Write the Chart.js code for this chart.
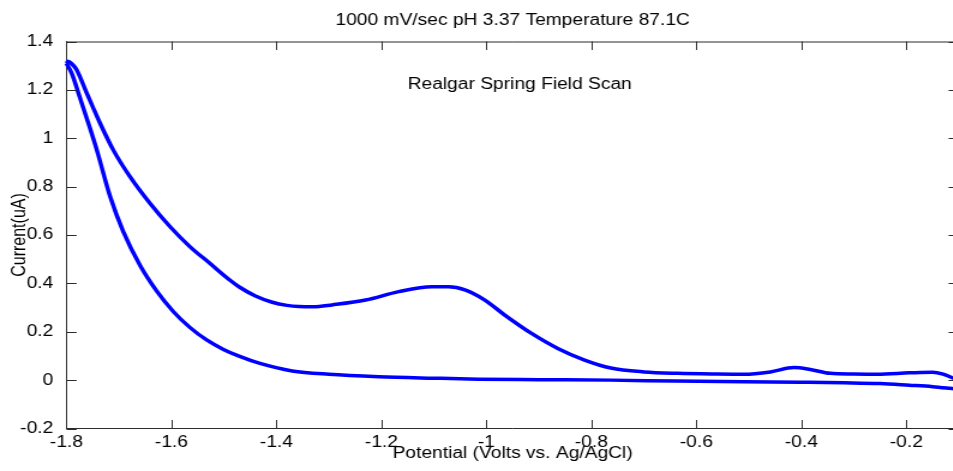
<!DOCTYPE html>
<html>
<head>
<meta charset="utf-8">
<script src="https://cdn.jsdelivr.net/npm/chart.js@4.4.0/dist/chart.umd.min.js"></script>
<style>
  html, body { margin: 0; padding: 0; background: #fff; overflow: hidden; }
  #wrap { width: 953px; height: 471px; overflow: hidden; }
  /* the source image is stretched sideways, so the canvas is too */
  #chart { transform: scaleX(1.2); transform-origin: 0 0; }
</style>
</head>
<body>
<div id="wrap"><canvas id="chart" width="805" height="471"></canvas></div>
<script>
const titleText = '1000 mV/sec pH 3.37 Temperature 87.1C';
const noteText = 'Realgar Spring Field Scan';
const noteX = -1.15, noteY = 1.22;

const xTicks = [-1.8, -1.6, -1.4, -1.2, -1.0, -0.8, -0.6, -0.4, -0.2];
const yTicks = [-0.2, 0, 0.2, 0.4, 0.6, 0.8, 1.0, 1.2, 1.4];

// forward sweep (lower branch)
const lowerX = [-1.800, -1.790, -1.774, -1.755, -1.742, -1.717, -1.692, -1.660, -1.628, -1.597,
  -1.565, -1.533, -1.501, -1.470, -1.433, -1.370, -1.300, -1.205, -1.100, -1.015,
  -0.900, -0.763, -0.640, -0.509, -0.400, -0.319, -0.250, -0.194, -0.150, -0.117,
  -0.100];
const lowerY = [1.310, 1.268, 1.165, 1.040, 0.950, 0.760, 0.615, 0.475, 0.368, 0.285,
  0.218, 0.166, 0.127, 0.098, 0.070, 0.038, 0.024, 0.014, 0.008, 0.004,
  0.002, 0.000, -0.004, -0.007, -0.009, -0.011, -0.014, -0.021, -0.027, -0.034,
  -0.038];

// reverse sweep (upper branch)
const upperX = [-1.800, -1.797, -1.790, -1.781, -1.762, -1.749, -1.736, -1.711, -1.679, -1.641,
  -1.603, -1.565, -1.527, -1.489, -1.470, -1.440, -1.408, -1.380, -1.357, -1.330,
  -1.294, -1.230, -1.167, -1.104, -1.072, -1.041, -1.003, -0.965, -0.914, -0.864,
  -0.813, -0.763, -0.700, -0.636, -0.560, -0.509, -0.459, -0.414, -0.383, -0.345,
  -0.300, -0.256, -0.194, -0.150, -0.130, -0.117, -0.100];
const upperY = [1.310, 1.318, 1.308, 1.284, 1.190, 1.125, 1.062, 0.952, 0.841, 0.731,
  0.635, 0.552, 0.483, 0.414, 0.384, 0.348, 0.322, 0.309, 0.304, 0.303,
  0.311, 0.331, 0.366, 0.386, 0.386, 0.373, 0.331, 0.269, 0.193, 0.131,
  0.083, 0.050, 0.034, 0.028, 0.025, 0.024, 0.034, 0.052, 0.044, 0.028,
  0.025, 0.024, 0.030, 0.033, 0.025, 0.014, -0.002];

const FONT = '"Liberation Sans", Arial, sans-serif';
const axisColor = '#2b2b2b';
const tickLen = 8.5;

function fmt(v) {
  return String(Number(v.toFixed(1)));
}

// MATLAB style box: top/right edges, inward ticks, title and text note
const matlabBox = {
  id: 'matlabBox',
  beforeDraw(chart) {
    const ctx = chart.ctx;
    ctx.save();
    ctx.fillStyle = '#fff';
    ctx.fillRect(0, 0, chart.width, chart.height);
    ctx.restore();
  },
  afterDraw(chart) {
    const { ctx, chartArea: a, scales } = chart;
    ctx.save();
    ctx.strokeStyle = axisColor;
    ctx.lineWidth = 1;
    ctx.beginPath();
    ctx.moveTo(a.left, a.top + 0.5);
    ctx.lineTo(a.right, a.top + 0.5);
    ctx.moveTo(a.right, a.top);
    ctx.lineTo(a.right, a.bottom);
    xTicks.forEach(v => {
      const px = Math.round(scales.x.getPixelForValue(v)) + 0.5;
      ctx.moveTo(px, a.bottom);
      ctx.lineTo(px, a.bottom - tickLen);
      ctx.moveTo(px, a.top);
      ctx.lineTo(px, a.top + tickLen);
    });
    yTicks.forEach(v => {
      const py = Math.round(scales.y.getPixelForValue(v)) + 0.5;
      ctx.moveTo(a.left, py);
      ctx.lineTo(a.left + tickLen, py);
      ctx.moveTo(a.right, py);
      ctx.lineTo(a.right - tickLen, py);
    });
    ctx.stroke();

    ctx.fillStyle = '#000';
    ctx.font = '16px ' + FONT;
    ctx.textBaseline = 'middle';
    ctx.textAlign = 'center';
    ctx.fillText(titleText, (a.left + a.right) / 2, 21);
    ctx.textAlign = 'left';
    ctx.fillText(noteText, scales.x.getPixelForValue(noteX), scales.y.getPixelForValue(noteY));
    ctx.restore();
  }
};

function branch(xs, ys) {
  return {
    data: xs.map((x, i) => ({ x: x, y: ys[i] })),
    showLine: true,
    borderColor: '#0000ff',
    borderWidth: 3.5,
    pointRadius: 0,
    cubicInterpolationMode: 'monotone',
    clip: false
  };
}

new Chart(document.getElementById('chart'), {
  type: 'scatter',
  data: {
    datasets: [branch(lowerX, lowerY), branch(upperX, upperY)]
  },
  options: {
    responsive: false,
    animation: false,
    layout: { padding: { left: 0, top: 41.5, right: 6, bottom: 0 } },
    plugins: {
      legend: { display: false },
      tooltip: { enabled: false },
      title: { display: false }
    },
    scales: {
      x: {
        type: 'linear',
        min: -1.8,
        max: -0.1,
        grid: { display: false },
        border: { display: true, color: axisColor, width: 1 },
        afterBuildTicks: s => { s.ticks = xTicks.map(v => ({ value: v })); },
        afterFit: s => { s.height = 42.5; },
        ticks: {
          color: '#000',
          padding: 0,
          maxRotation: 0,
          autoSkip: false,
          font: { family: FONT, size: 16, lineHeight: 0.8 },
          callback: v => fmt(v)
        },
        title: {
          display: true,
          text: 'Potential (Volts vs. Ag/AgCl)',
          color: '#000',
          font: { family: FONT, size: 16 },
          padding: { top: 0, bottom: 8 }
        }
      },
      y: {
        type: 'linear',
        min: -0.2,
        max: 1.4,
        grid: { display: false },
        border: { display: true, color: axisColor, width: 1 },
        afterBuildTicks: s => { s.ticks = yTicks.map(v => ({ value: v })); },
        afterFit: s => { s.width = 55.4; },
        ticks: {
          color: '#000',
          padding: 3,
          autoSkip: false,
          font: { family: FONT, size: 16 },
          callback: v => fmt(v)
        },
        title: {
          display: true,
          text: 'Current(uA)',
          color: '#000',
          font: { family: FONT, size: 16 },
          padding: { top: 7, bottom: 0 }
        }
      }
    }
  },
  plugins: [matlabBox]
});
</script>
</body>
</html>
